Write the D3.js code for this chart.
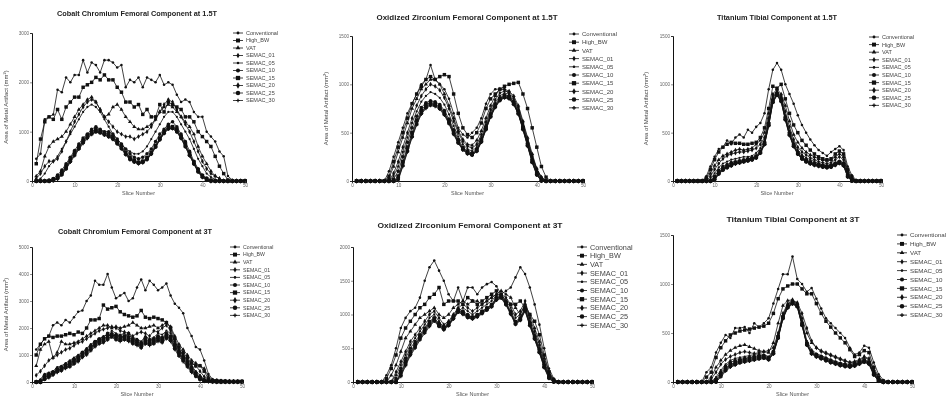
<!DOCTYPE html>
<html>
<head>
<meta charset="utf-8">
<script src="https://cdn.jsdelivr.net/npm/d3@7"></script>
<style>
  body { margin: 0; background: #fff; }
  svg { display: block; filter: blur(0.3px); }
  text { font-family: "Liberation Sans", Arial, sans-serif; }
</style>
</head>
<body>
<svg id="chart" width="948" height="398"></svg>
<script>
// series names shared by all panels
const seriesNames = ['Conventional', 'High_BW', 'VAT', 'SEMAC_01', 'SEMAC_05', 'SEMAC_10', 'SEMAC_15', 'SEMAC_20', 'SEMAC_25', 'SEMAC_30'];
const slices = d3.range(1, 51);
const xTicks = [0, 10, 20, 30, 40, 50];

// Cobalt Chromium 1.5T
const coCr15 = [
  [450,550,1250,1300,1350,1850,1800,2100,2000,2150, 2150,2450,2200,2400,2350,2200,2450,2450,2400,2300, 2350,1900,2050,2000,2100,1900,2100,2050,2000,2150, 1950,2000,1950,1750,1600,1650,1600,1400,1300,1300, 1000,900,800,600,500,100,20,0,0,0],
  [350,850,1200,1300,1250,1450,1250,1500,1600,1700, 1700,1900,1950,2000,2100,2050,2150,2050,2050,1900, 1800,1600,1600,1500,1550,1350,1450,1300,1300,1550, 1400,1600,1550,1500,1450,1300,1300,1200,1000,900, 800,700,500,300,150,20,0,0,0,0],
  [100,200,500,700,800,850,900,1000,1150,1300, 1450,1550,1650,1700,1600,1450,1300,1350,1500,1550, 1450,1300,1200,1100,1050,1050,1100,1150,1250,1400, 1500,1550,1500,1400,1300,1200,1100,950,700,500, 350,200,100,50,0,0,0,0,0,0],
  [50,150,300,400,400,450,600,800,1000,1200, 1350,1500,1600,1650,1600,1450,1300,1200,1100,1000, 950,900,900,850,900,950,1000,1100,1250,1400, 1550,1650,1600,1450,1300,1150,1000,800,600,400, 250,150,100,50,0,0,0,0,0,0],
  [0,50,150,300,400,500,650,800,950,1100, 1250,1400,1500,1550,1500,1400,1250,1100,950,850, 750,650,600,550,550,600,700,850,1000,1150, 1300,1400,1400,1300,1150,1000,850,650,450,300, 150,80,30,0,0,0,0,0,0,0],
  [0,0,0,20,50,120,220,350,480,620, 750,870,950,1050,1100,1050,1000,1000,950,850, 750,650,550,480,450,480,550,650,800,950, 1050,1150,1200,1100,950,800,600,400,250,120, 60,20,0,0,0,0,0,0,0,0],
  [0,0,0,0,30,80,180,300,450,580, 700,820,920,1000,1050,1020,980,950,900,800, 700,580,480,420,380,400,470,580,720,870, 1000,1100,1100,1050,900,750,550,380,220,100, 40,10,0,0,0,0,0,0,0,0],
  [0,0,0,0,20,60,150,270,420,550, 680,800,900,980,1020,1000,950,920,870,780, 680,560,460,400,370,390,450,560,700,850, 980,1080,1080,1020,880,720,530,360,200,90, 30,0,0,0,0,0,0,0,0,0],
  [0,0,0,0,10,50,130,250,400,530, 660,780,880,960,1000,980,940,900,850,760, 660,540,440,390,360,380,440,550,690,840, 970,1060,1070,1000,870,700,520,350,190,80, 20,0,0,0,0,0,0,0,0,0],
  [0,0,0,0,10,40,120,240,380,510, 640,760,860,940,990,970,930,890,840,750, 650,530,430,380,350,370,430,540,680,830, 960,1050,1060,990,860,690,510,340,180,70, 20,0,0,0,0,0,0,0,0,0]
];

// Oxidized Zirconium 1.5T
const oxZr15 = [
  [0,0,0,0,0,0,0,100,250,400, 550,700,800,900,1000,1050,1200,1050,1000,950, 850,700,550,480,450,500,550,650,800,900, 950,950,950,900,800,700,550,400,250,120, 40,0,0,0,0,0,0,0,0,0],
  [0,0,0,0,0,0,0,50,200,350, 500,650,800,900,980,1050,1080,1050,1080,1100, 1080,900,700,550,480,450,500,600,750,850, 900,950,980,1000,1010,1020,900,750,550,350, 150,40,0,0,0,0,0,0,0,0],
  [0,0,0,0,0,0,0,30,150,300, 450,600,750,850,950,1000,1050,1050,1000,900, 780,650,520,430,380,370,420,520,650,780, 880,950,950,930,880,780,620,450,280,130, 40,0,0,0,0,0,0,0,0,0],
  [0,0,0,0,0,0,0,0,80,200, 350,500,650,780,880,950,1000,980,940,860, 750,620,500,410,360,340,380,480,610,740, 840,910,930,920,860,760,600,430,260,120, 30,0,0,0,0,0,0,0,0,0],
  [0,0,0,0,0,0,0,0,50,150, 300,450,600,720,820,880,920,900,860,790, 690,570,460,380,330,310,350,450,580,710, 810,880,910,900,840,740,580,410,240,100, 20,0,0,0,0,0,0,0,0,0],
  [0,0,0,0,0,0,0,0,20,100, 250,400,550,670,760,810,830,820,790,730, 640,530,430,350,310,290,330,430,560,690, 790,860,890,880,820,720,560,390,220,90, 10,0,0,0,0,0,0,0,0,0],
  [0,0,0,0,0,0,0,0,0,50, 200,350,500,630,730,790,810,800,770,710, 620,510,410,340,300,280,320,420,550,680, 780,850,880,870,810,710,550,380,210,80, 10,0,0,0,0,0,0,0,0,0],
  [0,0,0,0,0,0,0,0,0,30, 180,330,480,610,710,770,800,790,760,700, 610,500,400,330,290,275,315,410,540,670, 770,840,870,860,800,700,540,370,200,70, 5,0,0,0,0,0,0,0,0,0],
  [0,0,0,0,0,0,0,0,0,20, 160,310,460,590,700,760,790,780,750,690, 600,490,395,325,285,270,310,405,535,665, 765,835,865,855,795,695,535,365,195,65, 0,0,0,0,0,0,0,0,0,0],
  [0,0,0,0,0,0,0,0,0,10, 150,300,450,580,690,750,780,770,740,680, 590,480,390,320,280,265,305,400,530,660, 760,830,860,850,790,690,530,360,190,60, 0,0,0,0,0,0,0,0,0,0]
];

// Titanium 1.5T
const ti15 = [
  [0,0,0,0,0,0,0,50,150,250, 330,350,420,380,450,480,450,530,500,560, 600,700,950,1150,1220,1150,1000,900,800,680, 580,500,430,370,320,290,260,300,330,360, 320,150,60,10,0,0,0,0,0,0],
  [0,0,0,0,0,0,0,30,120,220, 300,350,380,400,390,390,380,380,390,400, 450,550,750,980,960,1000,850,700,580,500, 420,370,320,280,250,230,220,230,280,310, 280,120,40,0,0,0,0,0,0,0],
  [0,0,0,0,0,0,0,20,80,160, 220,260,280,300,320,330,320,330,340,380, 420,500,700,900,950,900,780,620,480,400, 340,300,270,250,230,220,210,220,250,280, 250,100,30,0,0,0,0,0,0,0],
  [0,0,0,0,0,0,0,0,50,120, 180,230,260,280,290,300,300,310,320,340, 380,450,650,880,930,880,720,560,430,350, 300,270,240,220,200,190,180,190,220,250, 220,80,20,0,0,0,0,0,0,0],
  [0,0,0,0,0,0,0,0,20,80, 140,180,200,220,230,240,250,250,260,290, 340,420,620,860,920,860,680,520,400,320, 270,240,220,200,180,170,160,170,190,210, 190,70,10,0,0,0,0,0,0,0],
  [0,0,0,0,0,0,0,0,0,50, 110,150,170,190,200,210,220,230,240,260, 310,400,600,840,910,850,660,500,380,300, 250,220,200,180,170,160,150,160,180,200, 180,60,10,0,0,0,0,0,0,0],
  [0,0,0,0,0,0,0,0,0,30, 90,130,150,170,190,200,210,220,230,250, 300,390,590,830,900,840,650,490,370,290, 240,210,190,175,165,155,150,155,175,195, 170,55,5,0,0,0,0,0,0,0],
  [0,0,0,0,0,0,0,0,0,20, 80,120,145,165,185,195,205,215,225,245, 295,385,580,820,895,830,640,480,365,285, 235,205,185,170,160,150,145,150,170,190, 165,50,5,0,0,0,0,0,0,0],
  [0,0,0,0,0,0,0,0,0,15, 75,115,140,160,180,190,200,210,220,240, 290,380,575,815,890,825,635,475,360,280, 230,200,180,165,155,145,140,145,165,185, 160,45,0,0,0,0,0,0,0,0],
  [0,0,0,0,0,0,0,0,0,10, 70,110,135,155,175,185,195,205,215,235, 285,375,570,810,885,820,630,470,355,275, 225,195,175,160,150,140,135,140,160,180, 155,40,0,0,0,0,0,0,0,0]
];

// Cobalt Chromium 3T
const coCr3 = [
  [1200,1400,1600,1700,2100,2200,2100,2300,2200,2400, 2600,2650,3000,3200,3750,3600,3600,4000,3500,3100, 3200,3300,3000,3100,3500,3800,3400,3750,3600,3400, 3500,3650,3200,2900,2750,2550,2000,1700,1300,1200, 800,300,100,80,60,50,40,30,30,30],
  [1000,1400,1600,1700,1650,1700,1700,1750,1800,1750, 1850,1800,2000,2300,2300,2350,2850,2700,2750,2800, 2600,2500,2450,2400,2450,2650,2400,2350,2400,2350, 2300,2200,2000,1600,1300,1100,900,700,600,600, 400,100,50,40,30,30,20,20,20,20],
  [600,1200,1400,1500,900,1100,1500,1400,1400,1450, 1500,1600,1700,1800,1900,2000,2100,2100,2000,2050, 2000,2050,2100,2200,2100,2000,2000,2050,2100,2000, 2100,2200,2050,1700,1400,1200,1000,800,700,600, 500,200,80,50,40,30,30,20,20,20],
  [250,400,600,800,900,1000,1100,1200,1250,1350, 1450,1500,1600,1700,1800,1900,1950,2000,2050,2000, 1900,1850,1800,1700,1800,1850,1800,1700,1900,1850, 2000,2100,1900,1500,1200,1000,800,700,600,400, 200,100,50,40,30,20,20,20,20,20],
  [0,100,300,350,400,550,600,700,800,900, 1000,1100,1250,1400,1500,1600,1700,1750,1900,1800, 1750,1800,1700,1650,1600,1500,1700,1600,1650,1800, 1750,1900,1800,1500,1200,1000,800,600,400,250, 100,60,40,30,20,20,10,10,10,10],
  [0,50,250,300,350,500,550,650,750,850, 950,1100,1200,1350,1500,1600,1650,1800,1700,1750, 1700,1650,1800,1600,1550,1450,1650,1550,1600,1700, 1650,1800,1700,1400,1150,950,750,550,350,200, 80,50,30,20,10,10,10,10,10,10],
  [0,0,200,250,350,450,500,600,700,800, 900,1050,1150,1300,1450,1550,1600,1700,1750,1700, 1650,1700,1650,1550,1500,1400,1550,1500,1550,1650, 1600,1750,1650,1350,1100,900,700,500,300,150, 60,40,20,10,10,10,10,10,10,10],
  [0,0,150,250,300,400,500,550,650,750, 850,1000,1100,1250,1400,1500,1550,1650,1800,1650, 1600,1650,1600,1500,1450,1350,1500,1450,1500,1600, 1550,1700,1600,1300,1050,850,650,450,250,120, 50,30,20,10,10,10,10,10,10,10],
  [0,0,100,200,300,400,450,550,600,700, 800,950,1050,1200,1350,1450,1500,1600,1700,1600, 1550,1600,1550,1450,1400,1300,1450,1400,1450,1550, 1500,1650,1550,1250,1000,800,600,400,220,100, 40,30,20,10,10,10,10,10,10,10],
  [0,0,100,150,250,350,400,500,550,650, 750,900,1000,1150,1300,1400,1450,1550,1650,1550, 1500,1550,1500,1400,1350,1250,1400,1350,1400,1500, 1450,1600,1500,1200,950,750,550,350,200,80, 30,20,10,10,10,10,10,10,10,10]
];

// Oxidized Zirconium 3T
const oxZr3 = [
  [0,0,0,0,0,0,100,250,500,800, 950,1050,1100,1250,1500,1700,1800,1650,1500,1300, 1200,1400,1200,1400,1400,1300,1400,1450,1480,1420, 1300,1350,1400,1550,1700,1600,1400,1150,850,500, 200,50,0,0,0,0,0,0,0,0],
  [0,0,0,0,0,0,50,200,400,650, 800,900,1000,1100,1150,1250,1300,1400,1150,1200, 1200,1200,1150,1250,1200,1150,1200,1250,1300,1350, 1300,1200,1150,1150,1200,1100,1000,900,700,400, 150,30,0,0,0,0,0,0,0,0],
  [0,0,0,0,0,0,0,100,250,450, 650,750,850,950,1000,1050,1100,1000,950,1000, 1100,1150,1200,1150,1200,1200,1150,1200,1250,1300, 1350,1300,1250,1100,1000,1150,1000,800,600,350, 150,30,0,0,0,0,0,0,0,0],
  [0,0,0,0,0,0,0,0,150,300, 450,600,700,800,900,1000,1050,950,850,900, 1000,1100,1150,1100,1050,1100,1150,1200,1250,1300, 1300,1250,1150,1000,1050,1200,950,750,550,300, 120,20,0,0,0,0,0,0,0,0],
  [0,0,0,0,0,0,0,0,100,250, 400,550,650,750,850,950,1000,900,800,850, 950,1050,1100,1050,1000,1050,1100,1150,1200,1280, 1300,1200,1100,950,1000,1150,900,700,500,280, 100,20,0,0,0,0,0,0,0,0],
  [0,0,0,0,0,0,0,0,50,200, 350,500,600,700,800,900,950,870,820,880, 980,1080,1050,1000,950,1000,1050,1100,1150,1250, 1280,1180,1050,900,950,1100,880,680,480,260, 90,10,0,0,0,0,0,0,0,0],
  [0,0,0,0,0,0,0,0,0,150, 300,450,560,680,780,880,940,850,800,860, 960,1060,1030,980,960,990,1040,1090,1140,1240, 1270,1170,1030,880,940,1080,860,660,460,240, 80,10,0,0,0,0,0,0,0,0],
  [0,0,0,0,0,0,0,0,0,120, 280,430,540,660,760,860,920,840,790,850, 950,1050,1020,970,950,980,1030,1080,1130,1230, 1260,1160,1020,870,930,1070,850,650,450,230, 70,10,0,0,0,0,0,0,0,0],
  [0,0,0,0,0,0,0,0,0,100, 260,410,520,640,740,840,910,830,780,840, 940,1040,1010,960,940,970,1020,1070,1120,1220, 1250,1150,1010,860,920,1060,840,640,440,220, 60,0,0,0,0,0,0,0,0,0],
  [0,0,0,0,0,0,0,0,0,80, 240,390,500,620,720,820,900,820,770,830, 930,1030,1000,950,930,960,1010,1060,1110,1210, 1240,1140,1000,850,910,1050,830,630,430,210, 50,0,0,0,0,0,0,0,0,0]
];

// Titanium 3T
const ti3 = [
  [0,0,0,0,0,0,100,150,300,400, 480,450,550,550,560,500,600,560,600,650, 800,950,1100,1100,1280,1050,1000,920,960,850, 750,650,600,550,500,450,350,280,300,370, 350,200,80,20,0,0,0,0,0,0],
  [0,0,0,0,0,0,50,100,250,350, 420,480,500,520,530,540,550,560,570,600, 700,850,950,980,1000,1000,950,900,900,800, 700,620,560,500,450,400,330,260,280,320, 300,150,50,10,0,0,0,0,0,0],
  [0,0,0,0,0,0,0,50,150,220, 280,320,350,370,380,360,340,320,310,300, 400,600,780,830,840,800,650,500,400,350, 320,300,280,260,240,220,200,200,220,250, 230,120,40,0,0,0,0,0,0,0],
  [0,0,0,0,0,0,0,30,100,180, 230,260,280,300,310,300,290,300,310,320, 350,500,700,800,830,810,700,550,420,350, 310,290,270,250,230,210,200,210,230,260, 240,120,40,0,0,0,0,0,0,0],
  [0,0,0,0,0,0,0,0,50,120, 180,220,240,250,260,270,280,290,280,260, 320,480,680,790,820,800,620,420,330,290, 270,250,230,210,195,185,180,190,210,230, 210,100,30,0,0,0,0,0,0,0],
  [0,0,0,0,0,0,0,0,30,100, 160,200,220,230,240,250,260,270,270,250, 310,470,670,780,815,790,600,400,310,280, 260,240,220,200,185,175,170,180,200,220, 200,90,25,0,0,0,0,0,0,0],
  [0,0,0,0,0,0,0,0,20,80, 140,180,200,220,230,240,250,260,260,240, 300,460,660,770,810,780,590,390,300,270, 250,230,210,195,180,170,165,175,195,215, 195,85,20,0,0,0,0,0,0,0],
  [0,0,0,0,0,0,0,0,10,70, 130,170,190,210,220,230,240,250,250,235, 295,455,655,765,805,775,585,385,295,265, 245,225,205,190,175,165,160,170,190,210, 190,80,15,0,0,0,0,0,0,0],
  [0,0,0,0,0,0,0,0,0,60, 120,160,180,200,210,220,230,240,245,230, 290,450,650,760,800,770,580,380,290,260, 240,220,200,185,170,160,155,165,185,205, 185,75,10,0,0,0,0,0,0,0],
  [0,0,0,0,0,0,0,0,0,50, 110,150,170,190,200,210,220,230,240,225, 285,445,645,755,795,765,575,375,285,255, 235,215,195,180,165,155,150,160,180,200, 180,70,10,0,0,0,0,0,0,0]
];

const titles = [
  'Cobalt Chromium Femoral Component at 1.5T',
  'Oxidized Zirconium Femoral Component at 1.5T',
  'Titanium Tibial Component at 1.5T',
  'Cobalt Chromium Femoral Component at 3T',
  'Oxidized Zirconium Femoral Component at 3T',
  'Titanium Tibial Component at 3T'
];
const yTicksList = [
  [0, 1000, 2000, 3000],
  [0, 500, 1000, 1500],
  [0, 500, 1000, 1500],
  [0, 1000, 2000, 3000, 4000, 5000],
  [0, 500, 1000, 1500, 2000],
  [0, 500, 1000, 1500]
];
const panelData = [coCr15, oxZr15, ti15, coCr3, oxZr3, ti3];

// layout of each panel (pixels)
const layout = [
  { x0: 32, x1: 245, top: 33, bottom: 181, tx: 137, ty: 16, tw: 160, lx: 233, ly: 33, ldy: 7.5, lfs: 5.5, ylab: 8 },
  { x0: 352, x1: 583, top: 36, bottom: 181, tx: 467, ty: 20, tw: 181, lx: 569, ly: 34, ldy: 8.2, lfs: 6, ylab: 328 },
  { x0: 673, x1: 881, top: 36, bottom: 181, tx: 777, ty: 20, tw: 120, lx: 869, ly: 37, ldy: 7.6, lfs: 5.5, ylab: 648 },
  { x0: 32, x1: 242, top: 247, bottom: 382, tx: 135, ty: 234, tw: 154, lx: 230, ly: 247, ldy: 7.6, lfs: 5.2, ylab: 8 },
  { x0: 353, x1: 592, top: 247, bottom: 382, tx: 470, ty: 228, tw: 185, lx: 577, ly: 247, ldy: 8.7, lfs: 7.3, ylab: null },
  { x0: 673, x1: 912, top: 235, bottom: 382, tx: 793, ty: 222, tw: 133, lx: 897, ly: 235, ldy: 8.9, lfs: 6.2, ylab: null }
];

// marker style per series
const markers = [
  { type: d3.symbolCircle, size: 5 },
  { type: d3.symbolSquare, size: 12 },
  { type: d3.symbolTriangle, size: 7 },
  { type: d3.symbolDiamond, size: 7 },
  { type: d3.symbolCircle, size: 4 },
  { type: d3.symbolCircle, size: 10 },
  { type: d3.symbolSquare, size: 14 },
  { type: d3.symbolDiamond, size: 9 },
  { type: d3.symbolCircle, size: 12 },
  { type: d3.symbolCross, size: 6 }
];

const svg = d3.select('#chart');

layout.forEach((p, i) => {
  const g = svg.append('g');
  const x = d3.scaleLinear().domain([0, 50]).range([p.x0, p.x1]);
  const yMax = d3.max(yTicksList[i]);
  const y = d3.scaleLinear().domain([0, yMax]).range([p.bottom, p.top]);

  // title
  g.append('text')
    .attr('x', p.tx)
    .attr('y', p.ty)
    .attr('text-anchor', 'middle')
    .attr('textLength', p.tw)
    .attr('lengthAdjust', 'spacingAndGlyphs')
    .style('font-size', '6.5px')
    .style('font-weight', 'bold')
    .style('fill', '#222')
    .text(titles[i]);

  // series
  const line = d3.line().x((d, k) => x(slices[k])).y(d => y(d));
  panelData[i].forEach((vals, s) => {
    const sg = g.append('g');
    sg.append('path')
      .datum(vals)
      .attr('d', line)
      .attr('fill', 'none')
      .attr('stroke', '#111')
      .attr('stroke-width', 0.8);
    sg.selectAll('path.m')
      .data(vals)
      .enter().append('path')
      .attr('class', 'm')
      .attr('d', d3.symbol().type(markers[s].type).size(markers[s].size))
      .attr('transform', (d, k) => `translate(${x(slices[k])},${y(d)})`)
      .attr('fill', '#111');
  });

  // axes
  const xa = g.append('g')
    .attr('transform', `translate(0,${p.bottom})`)
    .call(d3.axisBottom(x).tickValues(xTicks).tickSize(2).tickPadding(1).tickFormat(d3.format('d')));
  const ya = g.append('g')
    .attr('transform', `translate(${p.x0},0)`)
    .call(d3.axisLeft(y).tickValues(yTicksList[i]).tickSize(2).tickPadding(1).tickFormat(d3.format('d')));
  [xa, ya].forEach(a => {
    a.select('.domain').attr('stroke', '#111').attr('stroke-width', 1);
    a.selectAll('.tick line').attr('stroke', '#444').attr('stroke-width', 0.6);
    a.selectAll('.tick text').style('font-size', '4.6px').style('fill', '#666')
      .style('font-family', '"Liberation Sans", Arial, sans-serif');
  });

  // axis labels
  g.append('text')
    .attr('x', (p.x0 + p.x1) / 2)
    .attr('y', p.bottom + 14)
    .attr('text-anchor', 'middle')
    .style('font-size', '5.5px')
    .style('fill', '#555')
    .text('Slice Number');
  if (p.ylab !== null) {
    g.append('text')
      .attr('transform', `translate(${p.ylab},${(p.top + p.bottom) / 2}) rotate(-90)`)
      .attr('text-anchor', 'middle')
      .style('font-size', '6px')
      .style('fill', '#444')
      .text('Area of Metal Artifact (mm')
      .append('tspan').attr('dy', -2).style('font-size', '4px').text('2')
      .select(function () { return this.parentNode; })
      .append('tspan').attr('dy', 2).text(')');
  }

  // legend
  const lg = g.append('g');
  seriesNames.forEach((name, s) => {
    const ly = p.ly + s * p.ldy;
    lg.append('line')
      .attr('x1', p.lx).attr('x2', p.lx + 10)
      .attr('y1', ly).attr('y2', ly)
      .attr('stroke', '#111').attr('stroke-width', 0.8);
    lg.append('path')
      .attr('d', d3.symbol().type(markers[s].type).size(markers[s].size * 1.3))
      .attr('transform', `translate(${p.lx + 5},${ly})`)
      .attr('fill', '#111');
    lg.append('text')
      .attr('x', p.lx + 13)
      .attr('y', ly)
      .attr('dy', '0.35em')
      .style('font-size', p.lfs + 'px')
      .style('fill', '#444')
      .text(name);
  });
});
</script>
</body>
</html>
